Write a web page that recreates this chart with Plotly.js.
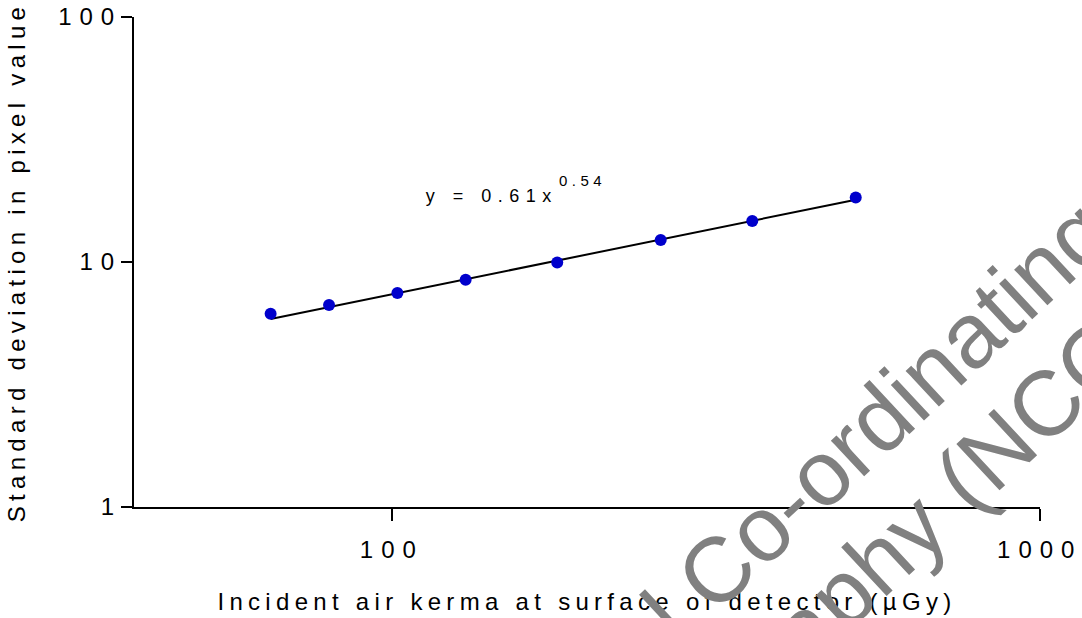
<!DOCTYPE html>
<html><head><meta charset="utf-8">
<script src="https://cdn.plot.ly/plotly-3.0.1.min.js"></script>
<style>
html,body{margin:0;padding:0;background:#fff}
#chart{width:1082px;height:618px}
g.xtick text, g.ytick text {letter-spacing:8px}
text.xtitle, text.ytitle {letter-spacing:5.3px}
g.annotation[data-index="0"] text {letter-spacing:6.5px}
g.annotation[data-index="1"] text {letter-spacing:4.5px}
</style></head><body><div id="chart"></div>
<script>
// Data
const kerma = [65, 80, 102, 130, 180, 260, 360, 520];
const sdPixel = [6.15, 6.67, 7.47, 8.47, 9.96, 12.3, 14.7, 18.35];
const fitKerma = [65, 520];
const fitSd = [5.85, 17.96];
const xTickVals = [100, 1000];
const xTickText = ['100', '1000'];
const yTickVals = [1, 10, 100];
const yTickText = ['1', '10', '100'];
const fitLabel = 'y = 0.61x';
const fitExponent = '0.54';
const watermarkLines = ['National Co-ordinating Centre', 'Mammography (NCCPM)'];

const W = 1082, H = 618;
const M = {l: 134, r: 42, t: 17, b: 111};
const pw = W - M.l - M.r, ph = H - M.t - M.b;
const px = p => (p - M.l) / pw;
const py = p => (H - M.b - p) / ph;
const FONT = 'Liberation Sans, Arial, sans-serif';

const traces = [
  {x: fitKerma, y: fitSd, mode: 'lines', type: 'scatter',
   line: {color: '#000000', width: 2}, hoverinfo: 'skip', showlegend: false},
  {x: kerma, y: sdPixel, mode: 'markers', type: 'scatter',
   marker: {color: '#0000CC', size: 12}, showlegend: false}
];

const layout = {
  width: W, height: H,
  margin: M,
  paper_bgcolor: '#ffffff', plot_bgcolor: '#ffffff',
  font: {family: FONT, color: '#000000'},
  showlegend: false,
  xaxis: {
    type: 'log', range: [Math.log10(40), 3.0004],
    tickvals: xTickVals, ticktext: xTickText,
    ticks: 'outside', ticklen: 12, tickwidth: 2, tickcolor: '#000',
    showline: true, linecolor: '#000', linewidth: 2,
    showgrid: false, zeroline: false,
    tickfont: {family: FONT, size: 24, color: '#000'},
    ticklabelstandoff: 8, ticklabeloverflow: 'allow',
    title: {text: 'Incident air kerma at surface of detector (µGy)',
            font: {family: FONT, size: 24, color: '#000'}, standoff: 31}
  },
  yaxis: {
    type: 'log', range: [0, 2],
    tickvals: yTickVals, ticktext: yTickText,
    ticks: 'outside', ticklen: 11, tickwidth: 2, tickcolor: '#000',
    showline: true, linecolor: '#000', linewidth: 2,
    showgrid: false, zeroline: false, ticklabeloverflow: 'allow',
    ticklabelstandoff: -6,
    tickfont: {family: FONT, size: 24, color: '#000'},
    title: {text: 'Standard deviation in pixel value',
            font: {family: FONT, size: 24, color: '#000'}, standoff: 26}
  },
  annotations: [
    {xref: 'paper', yref: 'paper', x: px(492), y: py(196), xanchor: 'center', yanchor: 'middle',
     text: fitLabel, showarrow: false, borderpad: 0, font: {family: FONT, size: 18, color: '#000'}},
    {xref: 'paper', yref: 'paper', x: px(582), y: py(180), xanchor: 'center', yanchor: 'middle',
     text: fitExponent, showarrow: false, borderpad: 0, font: {family: FONT, size: 15, color: '#000'}},
    {xref: 'paper', yref: 'paper', x: px(871), y: py(426), xanchor: 'center', yanchor: 'middle',
     text: watermarkLines[0], showarrow: false, textangle: -43, borderpad: 0,
     font: {family: FONT, size: 92, color: '#808080'}},
    {xref: 'paper', yref: 'paper', x: px(862), y: py(575), xanchor: 'center', yanchor: 'middle',
     text: watermarkLines[1], showarrow: false, textangle: -43, borderpad: 0,
     font: {family: FONT, size: 92, color: '#808080'}}
  ]
};

Plotly.newPlot('chart', traces, layout, {staticPlot: true, displayModeBar: false});
</script></body></html>
